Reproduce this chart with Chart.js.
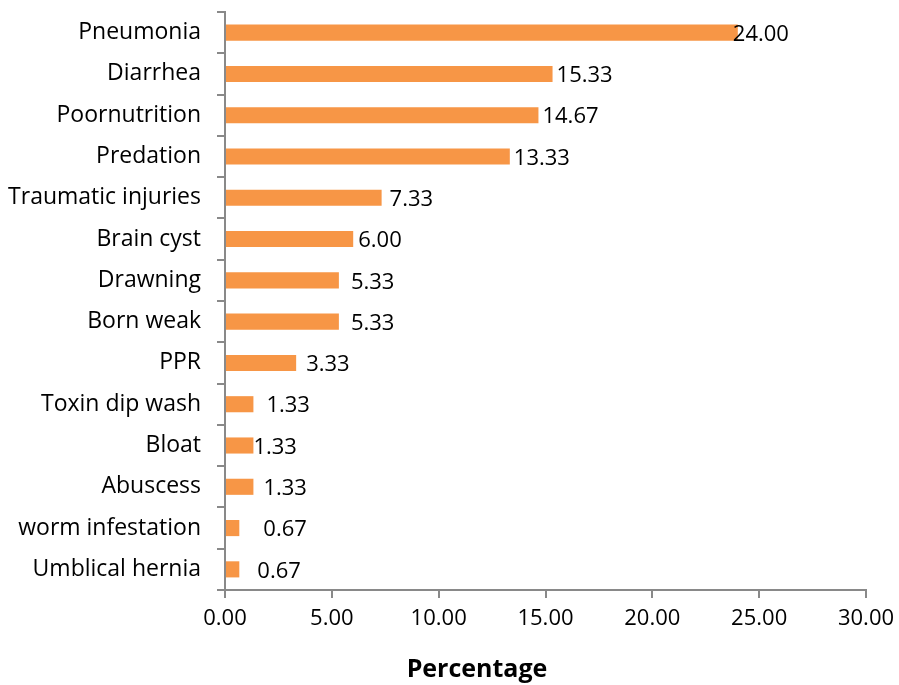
<!DOCTYPE html>
<html>
<head>
<meta charset="utf-8">
<script src="https://cdn.jsdelivr.net/npm/chart.js@4/dist/chart.umd.min.js"></script>
<style>
    html, body { margin: 0; padding: 0; background: #fff; }
    #wrap { width: 899px; height: 685px; }
</style>
</head>
<body>
<div id="wrap"><canvas id="causesChart" width="899" height="685"></canvas></div>
<script>
// Causes and percentages
const causes = [
    'Pneumonia', 'Diarrhea', 'Poornutrition', 'Predation', 'Traumatic injuries',
    'Brain cyst', 'Drawning', 'Born weak', 'PPR', 'Toxin dip wash',
    'Bloat', 'Abuscess', 'worm infestation', 'Umblical hernia'
];
const percentages = [24.00, 15.33, 14.67, 13.33, 7.33, 6.00, 5.33, 5.33, 3.33, 1.33, 1.33, 1.33, 0.67, 0.67];
const xTicks = [0, 5, 10, 15, 20, 25, 30];

// Excel labels were nudged by hand, so each one gets its own gap (px)
const labelGaps = [-5, 4, 4, 4, 8, 5, 12, 12, 10, 13, 0, 10, 24, 18];

const FONT = '"Open Sans", Lato, sans-serif';
const AXIS_GREY = '#898989';

// Value labels next to each bar + the axis title
const valueLabels = {
    id: 'valueLabels',
    afterDatasetsDraw(chart) {
        const ctx = chart.ctx;
        const meta = chart.getDatasetMeta(0);
        ctx.save();
        ctx.font = '22px ' + FONT;
        ctx.fillStyle = '#000';
        ctx.textAlign = 'left';
        ctx.textBaseline = 'middle';
        meta.data.forEach((bar, i) => {
            ctx.fillText(percentages[i].toFixed(2), bar.x + labelGaps[i], bar.y + 2);
        });
        ctx.font = 'bold 25px ' + FONT;
        ctx.textAlign = 'center';
        ctx.textBaseline = 'alphabetic';
        ctx.fillText('Percentage', 477, 677);
        ctx.restore();
    }
};

new Chart(document.getElementById('causesChart'), {
    type: 'bar',
    data: {
        labels: causes,
        datasets: [{
            data: percentages,
            backgroundColor: '#F79646',
            borderWidth: 0,
            categoryPercentage: 0.39,
            barPercentage: 1
        }]
    },
    options: {
        indexAxis: 'y',
        responsive: false,
        animation: false,
        layout: { padding: { top: 12, right: 33, bottom: 0, left: 0 } },
        plugins: {
            legend: { display: false },
            tooltip: { enabled: false }
        },
        scales: {
            x: {
                min: 0,
                max: 30,
                afterBuildTicks: (scale) => { scale.ticks = xTicks.map(v => ({ value: v })); },
                afterFit: (scale) => {
                    scale.height = 95;
                    scale.paddingLeft = 0;
                    scale.paddingRight = 0;
                },
                ticks: {
                    color: '#000',
                    padding: 8,
                    font: { family: FONT, size: 22 },
                    callback: (v) => Number(v).toFixed(2)
                },
                grid: { drawOnChartArea: false, tickLength: 8, color: AXIS_GREY, lineWidth: 2 },
                border: { color: AXIS_GREY, width: 2 }
            },
            y: {
                afterFit: (scale) => {
                    scale.width = 225;
                    scale.paddingTop = 0;
                    scale.paddingBottom = 0;
                },
                ticks: {
                    color: '#000',
                    padding: 16,
                    font: { family: FONT, size: 23 }
                },
                grid: { drawOnChartArea: false, tickLength: 8, color: AXIS_GREY, lineWidth: 2, offset: true },
                border: { color: AXIS_GREY, width: 2 }
            }
        }
    },
    plugins: [valueLabels]
});
</script>
</body>
</html>
